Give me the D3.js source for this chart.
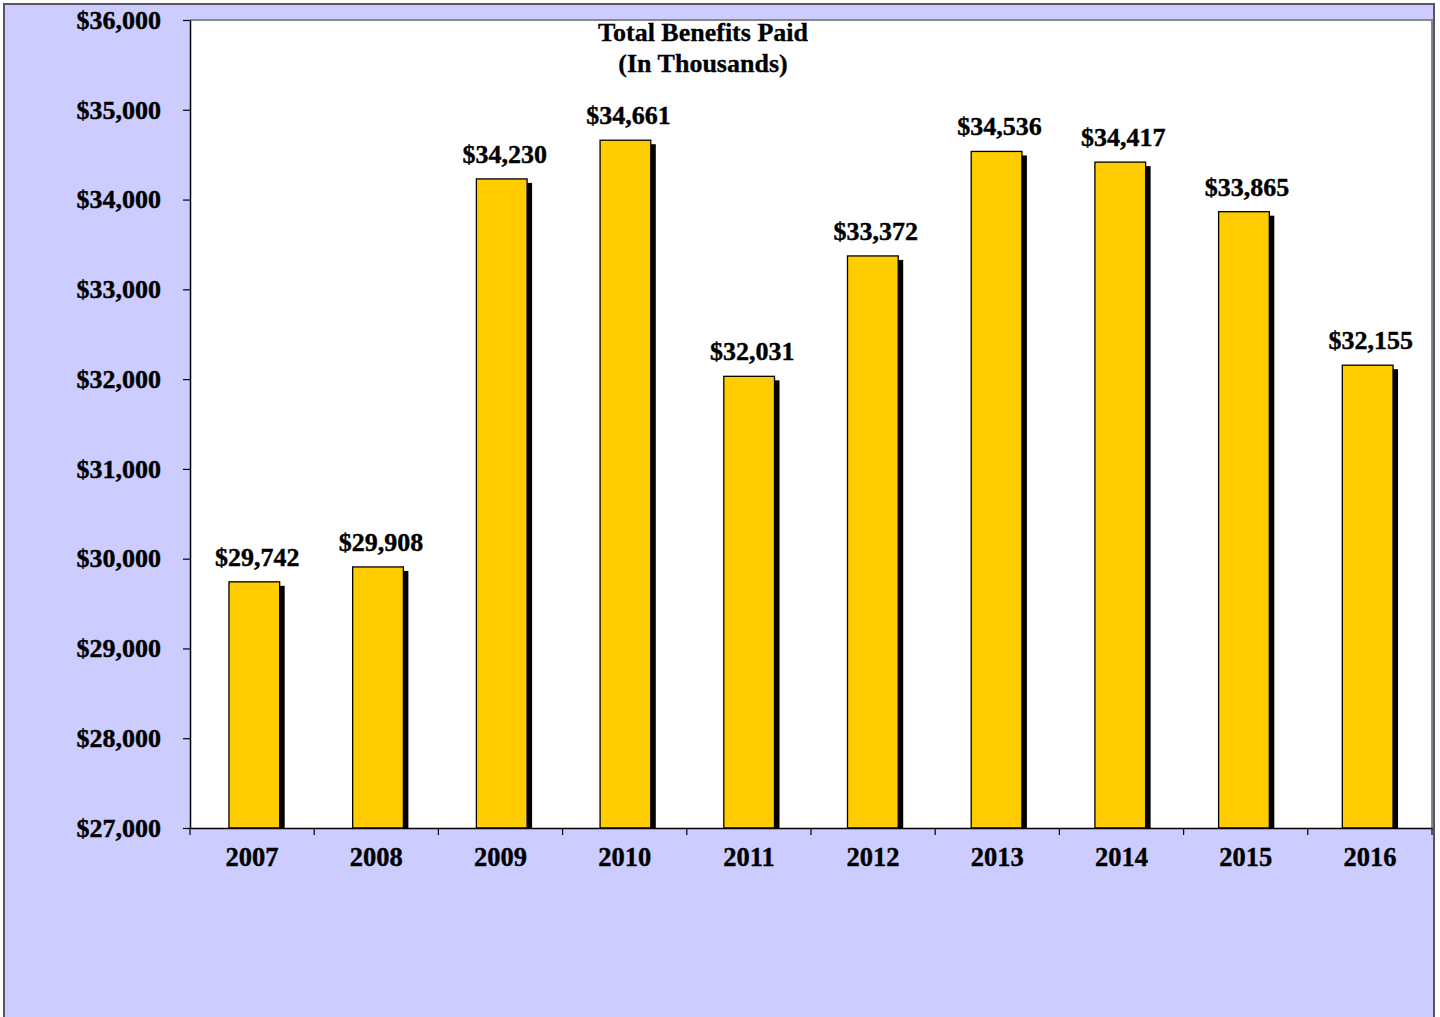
<!DOCTYPE html>
<html><head><meta charset="utf-8">
<script src="https://cdn.jsdelivr.net/npm/d3@7"></script>
<style>html,body{margin:0;padding:0;background:#fff;}svg{display:block;}</style>
</head><body>
<svg id="c" width="1440" height="1017"></svg>
<script>
const years = ["2007","2008","2009","2010","2011","2012","2013","2014","2015","2016"];
const benefits = [29742, 29908, 34230, 34661, 32031, 33372, 34536, 34417, 33865, 32155];
const yTicks = [27000, 28000, 29000, 30000, 31000, 32000, 33000, 34000, 35000, 36000];
const titleLines = ["Total Benefits Paid", "(In Thousands)"];

const svg = d3.select("#c");
const font = "'Liberation Serif','Times New Roman',serif";
const plot = {l:190, r:1432, t:20, b:828};

// outer background
svg.append("rect").attr("x",4).attr("y",4).attr("width",1430).attr("height",1020)
  .attr("fill","#CCCCFF").attr("stroke","#555566").attr("stroke-width",2);
// plot area
svg.append("rect").attr("x",plot.l).attr("y",plot.t).attr("width",plot.r-plot.l).attr("height",plot.b-plot.t)
  .attr("fill","#fff");
svg.append("path").attr("d",`M${plot.l},${plot.t}H${plot.r}V${plot.b}`).attr("fill","none")
  .attr("stroke","#888").attr("stroke-width",2);

const x = d3.scaleBand().domain(years).range([plot.l, plot.r]).paddingInner(0.59).paddingOuter(0.315);
const xb = d3.scaleBand().domain(years).range([plot.l, plot.r]);
const y = d3.scaleLinear().domain([27000, 36000]).range([plot.b, plot.t]);
const fmt = d3.format("$,");

// bars with shadow
const g = svg.append("g");
g.selectAll("rect.sh").data(years).join("rect").attr("class","sh")
  .attr("x", d => x(d)+5).attr("y", (d,i) => y(benefits[i])+4)
  .attr("width", x.bandwidth()).attr("height", (d,i) => plot.b - y(benefits[i]) - 4)
  .attr("fill","#000");
g.selectAll("rect.bar").data(years).join("rect").attr("class","bar")
  .attr("x", d => x(d)).attr("y", (d,i) => y(benefits[i]))
  .attr("width", x.bandwidth()).attr("height", (d,i) => plot.b - y(benefits[i]))
  .attr("fill","#FFCC00").attr("stroke","#000").attr("stroke-width",1.3);

// value labels
g.selectAll("text.v").data(years).join("text").attr("class","v")
  .attr("x", d => x(d)+x.bandwidth()/2+3).attr("y", (d,i) => y(benefits[i])-16)
  .attr("text-anchor","middle").attr("font-family",font).attr("font-weight","bold")
  .attr("font-size",26).attr("stroke","#000").attr("stroke-width",0.4).text((d,i) => fmt(benefits[i]));

// y axis
const ya = svg.append("g").attr("transform",`translate(${plot.l},0)`)
  .call(d3.axisLeft(y).tickValues(yTicks).tickFormat(fmt).tickSizeInner(7).tickSizeOuter(0).tickPadding(22));
ya.select(".domain").attr("stroke","#000").attr("stroke-width",1.5);
ya.selectAll(".tick line").attr("stroke","#000").attr("stroke-width",1.2);
ya.selectAll("text").attr("font-family",font).attr("font-weight","bold").attr("font-size",26)
  .attr("fill","#000").attr("stroke","#000").attr("stroke-width",0.4);

// x axis
const xa = svg.append("g").attr("transform",`translate(0,${plot.b})`)
  .call(d3.axisBottom(xb).tickSize(0).tickPadding(19));
xa.select(".domain").attr("stroke","#000").attr("stroke-width",1.5);
xa.selectAll("text").attr("font-family",font).attr("font-weight","bold").attr("font-size",26.5)
  .attr("fill","#000").attr("stroke","#000").attr("stroke-width",0.4);
xa.selectAll("line.b").data([...years.map(d=>xb(d)), plot.r]).join("line").attr("class","b")
  .attr("x1",d=>d).attr("x2",d=>d).attr("y1",0).attr("y2",7).attr("stroke","#000").attr("stroke-width",1.2);

// title
svg.append("text").attr("x",703).attr("y",41).attr("text-anchor","middle")
  .attr("font-family",font).attr("font-weight","bold").attr("font-size",26)
  .attr("stroke","#000").attr("stroke-width",0.3)
  .selectAll("tspan").data(titleLines).join("tspan").attr("x",703).attr("dy",(d,i)=>i?31:0).text(d=>d);
</script>
</body></html>
